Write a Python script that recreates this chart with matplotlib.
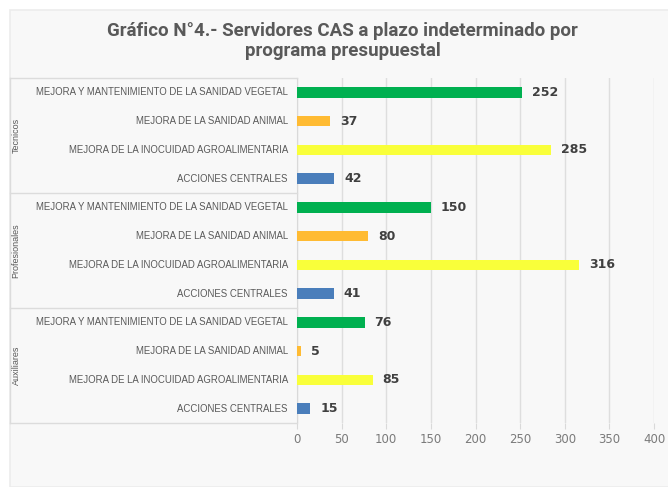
import numpy as np
import matplotlib.pyplot as plt
from matplotlib.patches import Rectangle
from matplotlib.lines import Line2D

groups = ['Tecnicos', 'Profesionales', 'Auxiliares']
programas = ['MEJORA Y MANTENIMIENTO DE LA SANIDAD VEGETAL',
             'MEJORA DE LA SANIDAD ANIMAL',
             'MEJORA DE LA INOCUIDAD AGROALIMENTARIA',
             'ACCIONES CENTRALES']
tecnicos = [252, 37, 285, 42]
profesionales = [150, 80, 316, 41]
auxiliares = [76, 5, 85, 15]
colores = ['#00b050', '#ffbb33', '#f9ff3a', '#4a7ebb']
xticks = [0, 50, 100, 150, 200, 250, 300, 350, 400]

W, H = 668, 487
fig = plt.figure(figsize=(W / 100, H / 100), dpi=100)
fig.patch.set_facecolor('white')
fig.patches.append(Rectangle((10 / W, 0), 1, 1 - 10 / H, transform=fig.transFigure,
                             facecolor='#f8f8f8', edgecolor='#ececec', lw=1.2, zorder=-5))

ax = fig.add_axes([297 / W, 1 - 423 / H, (654 - 297) / W, (423 - 78) / H])
ax.set_facecolor('#f8f8f8')

valores = tecnicos + profesionales + auxiliares
n = len(valores)
y = np.arange(n)
cols = colores * 3
ax.barh(y, valores, height=0.36, color=cols, zorder=3)
for yi, v in zip(y, valores):
    ax.annotate(str(v), (v, yi), xytext=(7, 0), textcoords='offset points',
                va='center', ha='left', fontsize=9,
                fontweight='bold', color='#404040', zorder=4)

ax.set_ylim(n - 0.5, -0.5)
ax.set_xlim(0, 400)
ax.set_xticks(xticks)
ax.set_yticks([])
ax.tick_params(axis='x', length=4, color='#d9d9d9', colors='#7a7a7a', labelsize=8.5)
ax.grid(axis='x', color='#dedede', lw=1, zorder=0)
for s in ['top', 'right', 'bottom']:
    ax.spines[s].set_visible(False)
ax.spines['left'].set_color('#d9d9d9')

# category labels
for i in range(n):
    ax.annotate(programas[i % 4], (0, i), xycoords=('axes fraction', 'data'),
                xytext=(-6.5, 0), textcoords='offset points',
                ha='right', va='center', fontsize=6.9, color='#595959',
                family='Liberation Sans')

# table lines and group labels
x0 = 10 / W
xa = 297 / W

def ypix(v):
    return ax.transData.transform((0, v))[1] / H

fig.canvas.draw()
for b in [-0.5, 3.5, 7.5, 11.5]:
    yy = ypix(b)
    fig.add_artist(Line2D([x0, xa], [yy, yy], color='#dcdcdc', lw=1))
fig.add_artist(Line2D([x0, x0], [ypix(-0.5), ypix(11.5)], color='#dcdcdc', lw=1))
for g, name in enumerate(groups):
    fig.text(16 / W, ypix(g * 4 + 1.5), name, rotation=90, ha='center', va='center',
             fontsize=6.5, color='#595959', family='Liberation Sans')

fig.text(0.513, 1 - 41 / H, 'Gráfico N°4.- Servidores CAS a plazo indeterminado por\nprograma presupuestal',
         ha='center', va='center', fontsize=13.5, fontweight='bold', color='#595959',
         family='Roboto', linespacing=1.1)

fig.savefig('out.png', dpi=100)
